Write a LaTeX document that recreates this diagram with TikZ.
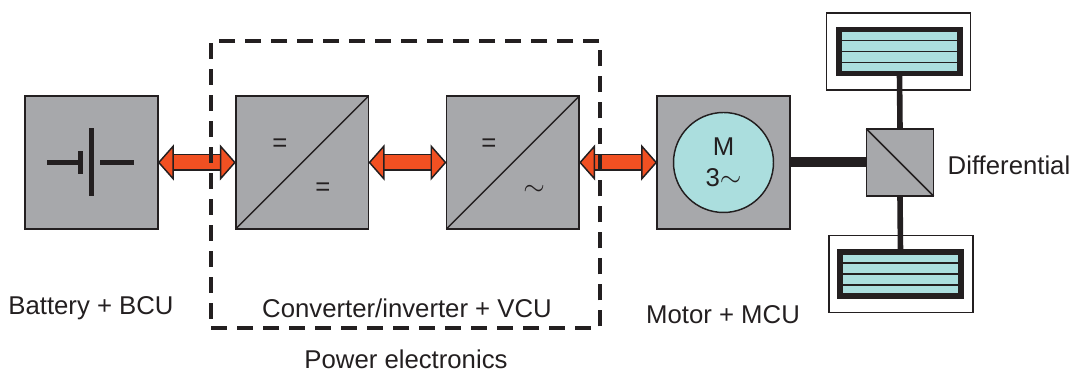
\documentclass[tikz,border=0pt]{standalone}
\usepackage{fontspec}
\setmainfont{Liberation Sans}
\usepackage{xcolor}
\usetikzlibrary{arrows.meta,positioning}
\definecolor{boxgray}{HTML}{A7A8AB}
\definecolor{coolcyan}{HTML}{ABDEDE}
\definecolor{linkorange}{HTML}{F15022}
\definecolor{inkblack}{HTML}{231F20}

\begin{document}
\begin{tikzpicture}[x=0.75pt, y=0.75pt, node distance=158pt, font=\fontsize{19.3}{23}\selectfont, text=inkblack]
        % Define styles
        \tikzset{
            unit/.style={rectangle, draw=inkblack, fill=boxgray, line width=1.1pt, minimum size=99.5pt, inner sep=0pt, outer sep=0pt},
            gearbox/.style={unit, minimum size=50.5pt},
            rotor/.style={circle, draw=inkblack, fill=coolcyan, line width=1.1pt, minimum size=75pt, inner sep=0pt, align=center},
            wheelcase/.style={rectangle, draw=inkblack, fill=white, line width=1.1pt, minimum width=108pt, minimum height=58pt, outer sep=0pt},
            tread/.style={rectangle, draw=inkblack, fill=coolcyan, line width=4.2pt, minimum width=91pt, minimum height=33pt, outer sep=0pt},
            groove/.style={draw=inkblack, line width=1.1pt},
            split/.style={draw=inkblack, line width=1.1pt},
            link/.style={draw=inkblack, line width=1.1pt, double=linkorange, double distance=10.5pt,
                {Triangle[length=12pt, width=27pt, fill=linkorange, line width=1.1pt]}-{Triangle[length=12pt, width=27pt, fill=linkorange, line width=1.1pt]}},
            shaft/.style={draw=inkblack, line width=4.2pt},
            mainshaft/.style={draw=inkblack, line width=7.5pt},
            plate/.style={draw=inkblack, line width=3.6pt},
            caption/.style={inner sep=0pt},
            powerbox/.style={rectangle, draw=inkblack, dash pattern=on 12pt off 7.5pt, line width=2.6pt, minimum width=291.5pt, minimum height=215pt, outer sep=0pt}
        }
        \useasboundingbox (0,0) rectangle (1075,373);

        % Create nodes
        \node [unit] (battery) at (91.5,210.5) {};
        \node [unit, right of=battery] (converter) {};
        \node [unit, right of=converter] (inverter) {};
        \node [unit, right of=inverter] (motor) {};
        \node [rotor] (rotor) at (motor) {M\\3$\sim$};
        \node [gearbox] (diff) at (900,210.5) {};
        \node [wheelcase] (casetop) at (898.5,321.5) {};
        \node [tread] (wheeltop) at (899.5,321.5) {};
        \node [wheelcase] (casebot) at (901,99) {};
        \node [tread] (wheelbot) at (900.5,99) {};

        % Battery symbol
        \coordinate (cellleft) at (47,210.5);
        \coordinate (cellshort) at (80.5,210.5);
        \coordinate (cellright) at (100,210.5);
        \draw [plate] (cellleft) -- (cellshort);
        \draw [plate, line width=4.2pt] ([yshift=-8.6pt]cellshort) -- ([yshift=8.6pt]cellshort);
        \draw [plate] (91.5,177) -- (91.5,245);
        \draw [plate] (cellright) -- (134,210.5);

        % Converter marks
        \draw [split] (converter.south west) -- (converter.north east);
        \draw [split] (inverter.south west) -- (inverter.north east);
        \draw [split] (diff.north west) -- (diff.south east);
        \node (eqa) at (280,228) {=};
        \node (eqb) at (323,184) {=};
        \node (eqc) at (489,228) {=};
        \node (ac) at (534,183) {$\sim$};

        % Wheel grooves
        \foreach \w in {wheeltop,wheelbot}
            \foreach \d in {-8.25pt,0pt,8.25pt}
                \draw [groove] ([yshift=\d]\w.west) -- ([yshift=\d]\w.east);

        % Create arrows
        \draw [link] (battery) -- (converter);
        \draw [link] (converter) -- (inverter);
        \draw [link] (inverter) -- (motor);
        \draw [mainshaft] (motor.east) -- (diff.west);
        \draw [shaft] (diff.north) -- (wheeltop.south);
        \draw [shaft] (diff.south) -- (wheelbot.north);

        % Add labels
        \node [caption] (lbattery) at (91,65) {Battery + BCU};
        \node [caption] (lconverter) at (407,65) {Converter/inverter + VCU};
        \node [caption] (lmotor) at (723,58) {Motor + MCU};
        \node [caption] (ldiff) at (1009,208) {Differential};
        \node [caption] (lpower) at (406,13.5) {Power electronics};

        % Dashed frame goes last
        \node [powerbox] (power) at (405.5,188.5) {};
    \end{tikzpicture}
\end{document}
